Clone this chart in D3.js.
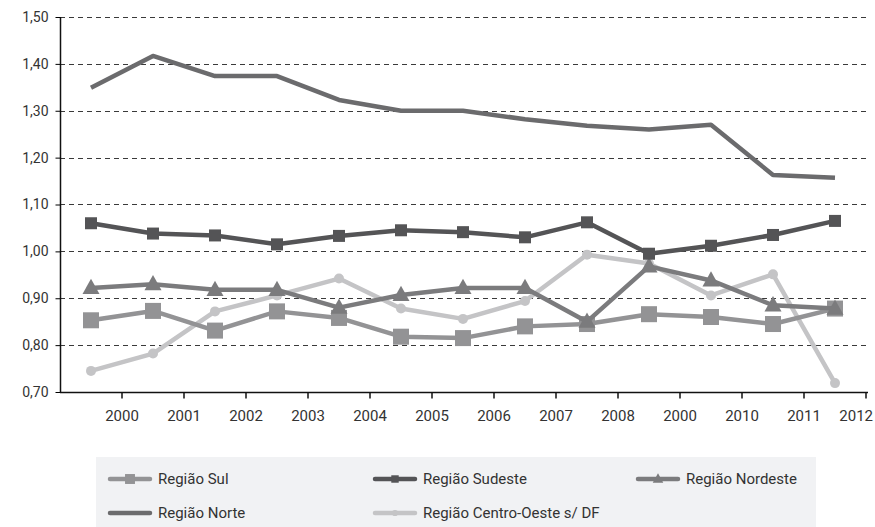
<!DOCTYPE html>
<head>
<meta charset="utf-8">
<style>
  body { margin: 0; background: #fff; }
  text { font-family: Roboto, "DejaVu Sans", sans-serif; }
</style>
<script src="https://d3js.org/d3.v7.min.js"></script>
</head>
<body>
<script>
// categories / tick labels as printed in the source (note the repeated "2000")
var tickLabels = ["2000","2001","2002","2003","2004","2005","2006","2007","2008","2000","2010","2011","2012"];

var sul        = [0.853, 0.873, 0.831, 0.872, 0.858, 0.818, 0.815, 0.840, 0.845, 0.866, 0.860, 0.845, 0.878];
var sudeste    = [1.060, 1.038, 1.034, 1.015, 1.033, 1.045, 1.041, 1.030, 1.062, 0.995, 1.012, 1.035, 1.065];
var nordeste   = [0.922, 0.930, 0.918, 0.918, 0.880, 0.907, 0.922, 0.922, 0.850, 0.968, 0.938, 0.885, 0.878];
var norte      = [1.349, 1.417, 1.374, 1.374, 1.323, 1.300, 1.300, 1.282, 1.268, 1.260, 1.270, 1.163, 1.157];
var centroOeste= [0.745, 0.782, 0.872, 0.906, 0.942, 0.878, 0.856, 0.894, 0.993, 0.974, 0.906, 0.951, 0.719];

var yTicks = [0.70, 0.80, 0.90, 1.00, 1.10, 1.20, 1.30, 1.40, 1.50];

var series = [
  {name: "Região Centro-Oeste s/ DF", values: centroOeste, color: "#c4c4c6", marker: "circle", size: 10},
  {name: "Região Sul", values: sul, color: "#939395", marker: "square", size: 16},
  {name: "Região Nordeste", values: nordeste, color: "#7b7b7d", marker: "triangle", size: 17},
  {name: "Região Sudeste", values: sudeste, color: "#545456", marker: "square", size: 12},
  {name: "Região Norte", values: norte, color: "#6b6b6d", marker: "none", size: 0}
];

var legendOrder = [
  ["Região Sul", 0, 0], ["Região Sudeste", 1, 0], ["Região Nordeste", 2, 0],
  ["Região Norte", 0, 1], ["Região Centro-Oeste s/ DF", 1, 1]
];

var width = 875, height = 527;
var margin = {left: 60, right: 9, top: 17, bottom: 135};

var svg = d3.select("body").append("svg").attr("width", width).attr("height", height);

var idx = d3.range(tickLabels.length);
var x = d3.scaleBand().domain(idx).range([margin.left, width - margin.right]);
var y = d3.scaleLinear().domain([0.70, 1.50]).range([height - margin.bottom, margin.top]);

var fmt = function(v) { return d3.format(".2f")(v).replace(".", ","); };

// grid
svg.append("g").selectAll("line")
  .data(yTicks.slice(1))
  .enter().append("line")
  .attr("x1", margin.left).attr("x2", width - margin.right)
  .attr("y1", function(d) { return Math.round(y(d)) + 0.5; })
  .attr("y2", function(d) { return Math.round(y(d)) + 0.5; })
  .attr("stroke", "#3a3a3a").attr("stroke-width", 1)
  .attr("stroke-dasharray", "5,4");

// y axis
var yAxis = svg.append("g")
  .attr("transform", "translate(" + (margin.left + 0.5) + ",0)")
  .call(d3.axisLeft(y).tickValues(yTicks).tickFormat(fmt).tickSize(5).tickPadding(7));
yAxis.select(".domain").attr("stroke", "#111").attr("stroke-width", 1.5).attr("d", "M0," + y(1.5) + "V" + y(0.7));
yAxis.selectAll("text").attr("font-size", 14).attr("fill", "#333");

// x axis: ticks at band right edges, labels under them
var xg = svg.append("g").attr("transform", "translate(0," + (Math.round(y(0.7)) + 0.5) + ")");
xg.append("line").attr("x1", margin.left).attr("x2", width - margin.right + 2)
  .attr("stroke", "#111").attr("stroke-width", 1.5);
var xt = xg.selectAll("g.tick").data(idx).enter().append("g")
  .attr("transform", function(d) { return "translate(" + (x(d) + x.bandwidth()) + ",0)"; });
xt.append("line").attr("y2", 6).attr("stroke", "#111").attr("stroke-width", 1.5);
xt.append("text").attr("y", 28)
  .attr("x", function(d) { return d === idx.length - 1 ? 7 : 0; })
  .attr("text-anchor", function(d) { return d === idx.length - 1 ? "end" : "middle"; })
  .attr("font-size", 15).attr("fill", "#333")
  .text(function(d) { return tickLabels[d]; });

var cx = function(i) { return x(i) + x.bandwidth() / 2; };
var line = d3.line().x(function(d, i) { return cx(i); }).y(function(d) { return y(d); });

function drawMarker(g, type, size, color) {
  if (type === "square") {
    g.append("rect").attr("x", -size / 2).attr("y", -size / 2)
      .attr("width", size).attr("height", size).attr("fill", color);
  } else if (type === "circle") {
    g.append("circle").attr("r", size / 2).attr("fill", color);
  } else if (type === "triangle") {
    var h = size * 0.9;
    g.append("path").attr("d", "M0," + (-h * 0.6) + "L" + (size / 2) + "," + (h * 0.4) + "L" + (-size / 2) + "," + (h * 0.4) + "Z")
      .attr("fill", color);
  }
}

series.forEach(function(s) {
  var g = svg.append("g");
  g.append("path").datum(s.values)
    .attr("d", line).attr("fill", "none")
    .attr("stroke", s.color).attr("stroke-width", 4.5)
    .attr("stroke-linejoin", "round");
  s.values.forEach(function(v, i) {
    var m = g.append("g").attr("transform", "translate(" + cx(i) + "," + y(v) + ")");
    drawMarker(m, s.marker, s.size, s.color);
  });
});

// legend
var lg = svg.append("g").attr("transform", "translate(96,457)");
lg.append("rect").attr("width", 720).attr("height", 75).attr("fill", "#f1f2f4");
var colX = [14, 279, 542], rowY = [22, 56];
legendOrder.forEach(function(l) {
  var s = series.find(function(d) { return d.name === l[0]; });
  var g = lg.append("g").attr("transform", "translate(" + colX[l[1]] + "," + rowY[l[2]] + ")");
  g.append("line").attr("x1", 0).attr("x2", 40).attr("stroke", s.color)
    .attr("stroke-width", 4.5).attr("stroke-linecap", "round");
  var m = g.append("g").attr("transform", "translate(20,0)");
  drawMarker(m, s.marker, s.size * 0.62, s.color);
  g.append("text").attr("x", 48).attr("y", 5).attr("font-size", 15).attr("fill", "#333").text(s.name);
});
</script>
</body>
</html>
